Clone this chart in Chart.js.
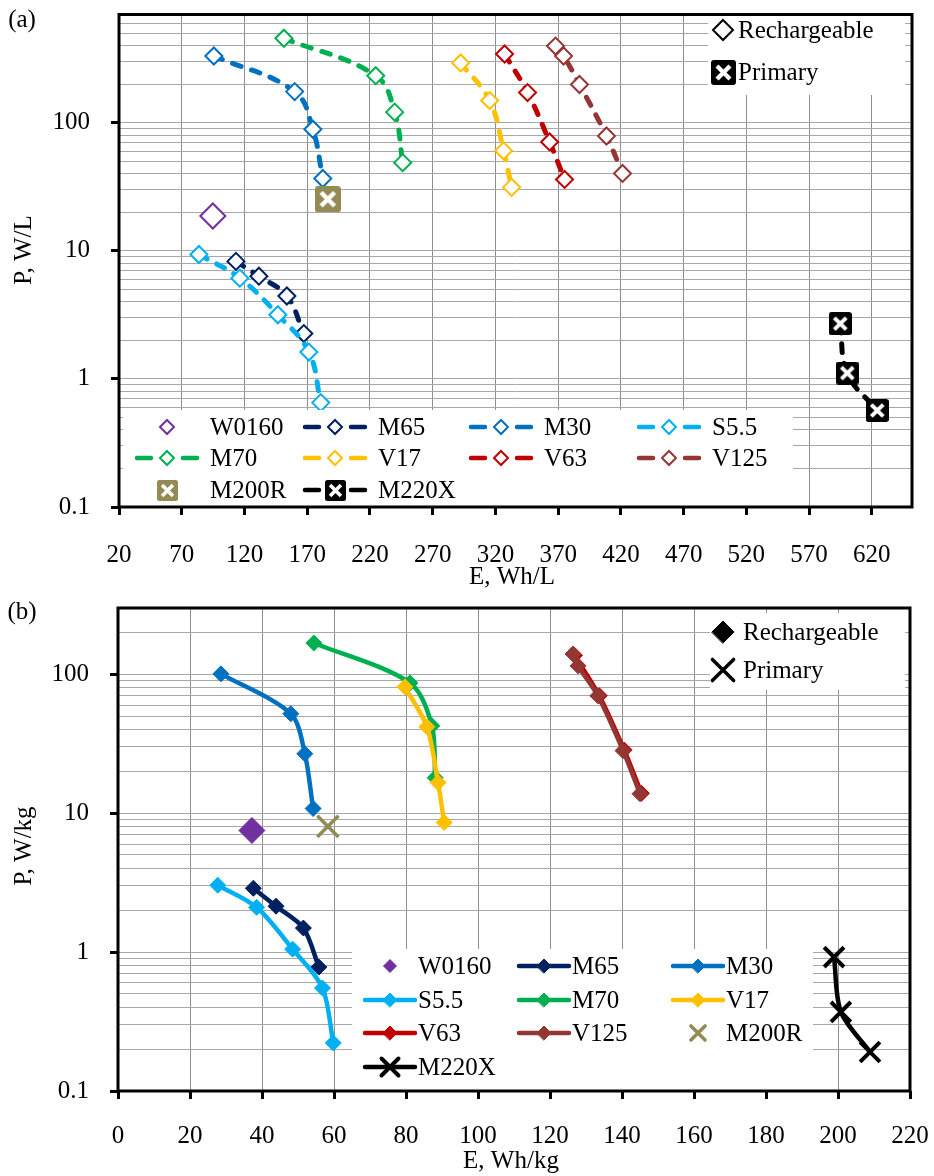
<!DOCTYPE html>
<html lang="en">
<head>
<meta charset="UTF-8">
<title>Power vs energy density</title>
<script src="https://cdn.jsdelivr.net/npm/chart.js"></script>
<style>
  body { margin: 0; background: #fff; }
  .wrap { position: absolute; left: 0; width: 934px; }
</style>
</head>
<body>
<div class="wrap" style="top:0;height:600px;"><canvas id="chartA" width="934" height="600"></canvas></div>
<div class="wrap" style="top:580px;height:596px;"><canvas id="chartB" width="934" height="596"></canvas></div>
<script>
// series names / colours (same order in both panels)
const seriesNames = ['W0160', 'M65', 'M30', 'S5.5', 'M70', 'V17', 'V63', 'V125', 'M200R', 'M220X'];
const seriesColors = ['#7030A0', '#002060', '#0070C0', '#00B0F0', '#00B050', '#FFC000', '#C00000', '#943634', '#948A54', '#000000'];

// (a) E in Wh/L, P in W/L
const eVolW0160 = [94.8];
const pVolW0160 = [18.7];
const eVolM65 = [113.2, 131.5, 153.8, 167.3];
const pVolM65 = [8.27, 6.34, 4.44, 2.26];
const eVolM30 = [95.6, 160, 174.5, 182.4];
const pVolM30 = [332, 175, 89, 36.7];
const eVolS55 = [83.7, 116.3, 146.6, 171.3, 180.8];
const pVolS55 = [9.36, 6.12, 3.17, 1.62, 0.653];
const eVolM70 = [151.4, 224.6, 239.7, 246.1];
const pVolM70 = [457, 233, 121, 48.8];
const eVolV17 = [292.3, 315.4, 326.5, 332.9];
const pVolV17 = [293, 149, 60.4, 31.3];
const eVolV63 = [327.3, 345.6, 363.2, 375.1];
const pVolV63 = [344, 172, 70.8, 36.1];
const eVolV125 = [367.9, 374.3, 387, 408.5, 421.3];
const pVolV125 = [397, 332, 199, 78.8, 40.2];
const eVolM200R = [186.4];
const pVolM200R = [25.3];
const eVolM220X = [594.8, 600.4, 624.3];
const pVolM220X = [2.70, 1.11, 0.567];

// (b) E in Wh/kg, P in W/kg
const eGrvW0160 = [37.2];
const pGrvW0160 = [7.51];
const eGrvM65 = [37.6, 43.9, 51.5, 55.8];
const pGrvM65 = [2.88, 2.14, 1.49, 0.78];
const eGrvM30 = [28.6, 48, 51.9, 54.2];
const pGrvM30 = [100.7, 52, 26.8, 10.8];
const eGrvS55 = [27.7, 38.5, 48.5, 56.8, 59.8];
const pGrvS55 = [3.03, 2.10, 1.05, 0.551, 0.222];
const eGrvM70 = [54.4, 81.1, 87.2, 88.1];
const pGrvM70 = [168, 86.7, 42.6, 18.0];
const eGrvV17 = [79.7, 85.8, 88.9, 90.6];
const pGrvV17 = [81.2, 41.9, 16.6, 8.58];
const eGrvV63 = [126.8, 133.7, 140.6, 145.4];
const pGrvV63 = [137, 70, 28.5, 13.9];
const eGrvV125 = [126.4, 127.8, 133.3, 140.3, 145];
const pGrvV125 = [140, 115, 70, 28.2, 13.8];
const eGrvM200R = [58.3];
const pGrvM200R = [8.03];
const eGrvM220X = [198.9, 200.8, 208.9];
const pGrvM220X = [0.92, 0.371, 0.191];

// axis ticks
const xTicksVol = [20, 70, 120, 170, 220, 270, 320, 370, 420, 470, 520, 570, 620];
const xTicksGrv = [0, 20, 40, 60, 80, 100, 120, 140, 160, 180, 200, 220];
const yLabelValues = [0.1, 1, 10, 100];

const volE = [eVolW0160, eVolM65, eVolM30, eVolS55, eVolM70, eVolV17, eVolV63, eVolV125, eVolM200R, eVolM220X];
const volP = [pVolW0160, pVolM65, pVolM30, pVolS55, pVolM70, pVolV17, pVolV63, pVolV125, pVolM200R, pVolM220X];
const grvE = [eGrvW0160, eGrvM65, eGrvM30, eGrvS55, eGrvM70, eGrvV17, eGrvV63, eGrvV125, eGrvM200R, eGrvM220X];
const grvP = [pGrvW0160, pGrvM65, pGrvM30, pGrvS55, pGrvM70, pGrvV17, pGrvV63, pGrvV125, pGrvM200R, pGrvM220X];

const FONT = "'Liberation Serif', 'Times New Roman', serif";
Chart.defaults.font.family = FONT;
Chart.defaults.font.size = 25;
Chart.defaults.color = '#000';

function pts(e, p) {
  return e.map((v, i) => ({ x: v, y: p[i] }));
}

// log gridlines at 1..9 of every decade up to max
function logGrid(max) {
  const out = [];
  for (let d = 0.1; d < max * 1.001; d *= 10) {
    for (let m = 1; m <= 9; m++) {
      const v = parseFloat((d * m).toPrecision(6));
      if (v <= max * 1.0001) out.push(v);
    }
  }
  return out;
}
function isDecade(v) {
  const l = Math.log10(v);
  return Math.abs(l - Math.round(l)) < 1e-6;
}

// square with white X (Excel style marker)
function boxIcon(size, fill) {
  const c = document.createElement('canvas');
  c.width = size; c.height = size;
  const g = c.getContext('2d');
  const r = size * 0.12;
  g.fillStyle = fill;
  g.beginPath();
  g.moveTo(r, 0); g.lineTo(size - r, 0); g.quadraticCurveTo(size, 0, size, r);
  g.lineTo(size, size - r); g.quadraticCurveTo(size, size, size - r, size);
  g.lineTo(r, size); g.quadraticCurveTo(0, size, 0, size - r);
  g.lineTo(0, r); g.quadraticCurveTo(0, 0, r, 0);
  g.fill();
  g.strokeStyle = '#fff';
  g.lineWidth = size * 0.17;
  const m = size * 0.24;
  g.beginPath();
  g.moveTo(m, m); g.lineTo(size - m, size - m);
  g.moveTo(size - m, m); g.lineTo(m, size - m);
  g.stroke();
  return c;
}

function volDataset(i) {
  const name = seriesNames[i], col = seriesColors[i];
  const ds = {
    label: name,
    data: pts(volE[i], volP[i]),
    order: 100 - i,
    showLine: volE[i].length > 1,
    borderColor: col,
    borderWidth: 5,
    borderDash: [9, 11],
    borderCapStyle: 'round',
    tension: 0.4,
    pointStyle: 'rectRot',
    pointRadius: 8.5,
    pointBorderWidth: 2,
    pointBackgroundColor: '#fff',
    pointBorderColor: col,
    legendRadius: 7
  };
  if (name === 'W0160') ds.pointRadius = 12.5;
  if (name === 'M200R') { ds.pointStyle = boxIcon(26, col); ds.pointRadius = 12; ds.legendIcon = boxIcon(21, col); }
  if (name === 'M220X') { ds.pointStyle = boxIcon(23, col); ds.pointRadius = 11; ds.legendIcon = boxIcon(21, col); }
  return ds;
}

function grvDataset(i) {
  const name = seriesNames[i], col = seriesColors[i];
  const ds = {
    label: name,
    data: pts(grvE[i], grvP[i]),
    order: 100 - i,
    showLine: grvE[i].length > 1,
    borderColor: col,
    borderWidth: 4.5,
    borderCapStyle: 'round',
    borderJoinStyle: 'round',
    tension: 0.3,
    pointStyle: 'rectRot',
    pointRadius: 8,
    pointBorderWidth: 1,
    pointBackgroundColor: col,
    pointBorderColor: col,
    legendRadius: 7
  };
  if (name === 'W0160') { ds.pointRadius = 13; ds.legendRadius = 6.5; }
  if (name === 'M200R') { ds.pointStyle = 'crossRot'; ds.pointRadius = 15; ds.pointBorderWidth = 3.5; ds.legendRadius = 10; }
  if (name === 'M220X') { ds.pointStyle = 'crossRot'; ds.pointRadius = 14; ds.pointBorderWidth = 4; ds.legendRadius = 12; }
  return ds;
}

function drawMarker(ctx, ds, x, y) {
  const st = ds.pointStyle;
  if (typeof st === 'object') {
    const ic = ds.legendIcon || st;
    ctx.drawImage(ic, Math.round(x - ic.width / 2), Math.round(y - ic.height / 2));
    return;
  }
  const r = ds.legendRadius;
  ctx.lineWidth = ds.pointBorderWidth;
  ctx.fillStyle = ds.pointBackgroundColor;
  ctx.strokeStyle = ds.pointBorderColor;
  ctx.setLineDash([]);
  ctx.beginPath();
  if (st === 'rectRot') {
    ctx.moveTo(x - r, y); ctx.lineTo(x, y - r); ctx.lineTo(x + r, y); ctx.lineTo(x, y + r);
    ctx.closePath();
    ctx.fill();
    ctx.stroke();
  } else {
    const d = r * Math.SQRT1_2;
    ctx.moveTo(x - d, y - d); ctx.lineTo(x + d, y + d);
    ctx.moveTo(x + d, y - d); ctx.lineTo(x - d, y + d);
    ctx.stroke();
  }
}

// legends, frame and titles drawn on top
const overlayPlugin = {
  id: 'overlay',
  afterDraw(chart, args, o) {
    const ctx = chart.ctx;
    const a = chart.chartArea;
    ctx.save();
    ctx.fillStyle = '#fff';
    o.boxes.forEach(b => ctx.fillRect(b[0], b[1], b[2] - b[0], b[3] - b[1]));

    ctx.font = '25px ' + FONT;
    ctx.textBaseline = 'middle';
    ctx.textAlign = 'left';

    const L = o.legend;
    chart.data.datasets.forEach((ds, i) => {
      const x0 = L.cols[i % L.cols.length];
      const y = L.rows[Math.floor(i / L.cols.length)];
      if (ds.showLine) {
        ctx.strokeStyle = ds.borderColor;
        ctx.lineWidth = 4.5;
        ctx.lineCap = 'round';
        ctx.setLineDash([]);
        ctx.beginPath();
        if (L.dashed) {
          ctx.moveTo(x0 + 2, y); ctx.lineTo(x0 + 16, y);
          ctx.moveTo(x0 + L.lineLen - 16, y); ctx.lineTo(x0 + L.lineLen - 2, y);
        } else {
          ctx.moveTo(x0 + 2, y); ctx.lineTo(x0 + L.lineLen - 2, y);
        }
        ctx.stroke();
      }
      drawMarker(ctx, ds, x0 + L.lineLen / 2, y);
      ctx.fillStyle = '#000';
      ctx.fillText(ds.label, x0 + L.textOff, y + 1);
    });

    // Rechargeable / Primary key
    const K = o.key;
    ctx.fillStyle = '#000';
    ctx.fillText('Rechargeable', K.textX, K.rows[0] + 1);
    ctx.fillText('Primary', K.textX, K.rows[1] + 1);
    drawMarker(ctx, K.recharge, K.markX, K.rows[0]);
    drawMarker(ctx, K.primary, K.markX, K.rows[1]);

    // plot frame
    ctx.strokeStyle = '#000';
    ctx.lineWidth = 3;
    ctx.setLineDash([]);
    ctx.strokeRect(a.left, a.top, a.right - a.left, a.bottom - a.top);

    // titles
    ctx.fillStyle = '#000';
    ctx.textAlign = 'center';
    o.titles.forEach(t => {
      ctx.save();
      ctx.translate(t.x, t.y);
      if (t.rot) ctx.rotate(-Math.PI / 2);
      ctx.fillText(t.text, 0, 0);
      ctx.restore();
    });
    ctx.restore();
  }
};

function noPad(s) {
  s.paddingTop = 0; s.paddingBottom = 0; s.paddingLeft = 0; s.paddingRight = 0;
}

function makeScales(xTicks, xMin, xMax, yMax, yWidth, xHeight, xPad) {
  const yGrid = logGrid(yMax);
  return {
    x: {
      type: 'linear', min: xMin, max: xMax,
      afterBuildTicks: s => { s.ticks = xTicks.map(v => ({ value: v })); },
      afterFit: s => { s.height = xHeight; noPad(s); },
      grid: { color: '#8f8f8f', lineWidth: 1, tickLength: 8, tickColor: '#000', tickWidth: 3 },
      border: { display: false },
      ticks: { padding: xPad, maxRotation: 0, autoSkip: false, color: '#000', font: { size: 25 } }
    },
    y: {
      type: 'logarithmic', min: 0.1, max: yMax,
      afterBuildTicks: s => { s.ticks = yGrid.map(v => ({ value: v })); },
      afterFit: s => { s.width = yWidth; noPad(s); },
      grid: {
        color: '#a8a8a8', lineWidth: 1, tickLength: 8, tickWidth: 3,
        tickColor: c => (c.tick && isDecade(c.tick.value)) ? '#000' : 'rgba(0,0,0,0)'
      },
      border: { display: false },
      ticks: {
        padding: 21, autoSkip: false, color: '#000', font: { size: 25 },
        callback: v => yLabelValues.some(t => Math.abs(t - v) < 1e-9) ? String(v) : ''
      }
    }
  };
}

const chartA = new Chart(document.getElementById('chartA'), {
  type: 'scatter',
  data: { datasets: seriesNames.map((n, i) => volDataset(i)) },
  options: {
    responsive: false,
    animation: false,
    events: [],
    layout: { padding: { left: 0, top: 9, right: 22, bottom: 0 } },
    scales: makeScales(xTicksVol, 20, 652, 700, 119, 93, 25),
    plugins: {
      legend: { display: false },
      tooltip: { enabled: false },
      overlay: {
        boxes: [[123, 410, 793, 506], [708, 13, 905, 95]],
        legend: { cols: [135, 303, 469, 637], rows: [427, 458, 490], lineLen: 64, textOff: 75, dashed: true },
        key: {
          markX: 723, textX: 738, rows: [30, 72],
          recharge: { pointStyle: 'rectRot', legendRadius: 10, pointBorderWidth: 2, pointBackgroundColor: '#fff', pointBorderColor: '#000' },
          primary: { pointStyle: boxIcon(25, '#000') }
        },
        titles: [
          { text: '(a)', x: 22, y: 20 },
          { text: 'E, Wh/L', x: 512, y: 577 },
          { text: 'P, W/L', x: 24, y: 250, rot: true }
        ]
      }
    }
  },
  plugins: [overlayPlugin]
});

const chartB = new Chart(document.getElementById('chartB'), {
  type: 'scatter',
  data: { datasets: seriesNames.map((n, i) => grvDataset(i)) },
  options: {
    responsive: false,
    animation: false,
    events: [],
    layout: { padding: { left: 0, top: 28, right: 24, bottom: 0 } },
    scales: makeScales(xTicksGrv, 0, 220, 300, 118, 85, 22),
    plugins: {
      legend: { display: false },
      tooltip: { enabled: false },
      overlay: {
        boxes: [[352, 369, 813, 510], [710, 33, 905, 110]],
        legend: { cols: [363, 517, 671], rows: [386, 420, 453, 487], lineLen: 54, textOff: 55, dashed: false },
        key: {
          markX: 723, textX: 743, rows: [52, 90],
          recharge: { pointStyle: 'rectRot', legendRadius: 11, pointBorderWidth: 1, pointBackgroundColor: '#000', pointBorderColor: '#000' },
          primary: { pointStyle: 'crossRot', legendRadius: 15, pointBorderWidth: 3.5, pointBackgroundColor: '#000', pointBorderColor: '#000' }
        },
        titles: [
          { text: '(b)', x: 22, y: 32 },
          { text: 'E, Wh/kg', x: 511, y: 581 },
          { text: 'P, W/kg', x: 24, y: 266, rot: true }
        ]
      }
    }
  },
  plugins: [overlayPlugin]
});
</script>
</body>
</html>
